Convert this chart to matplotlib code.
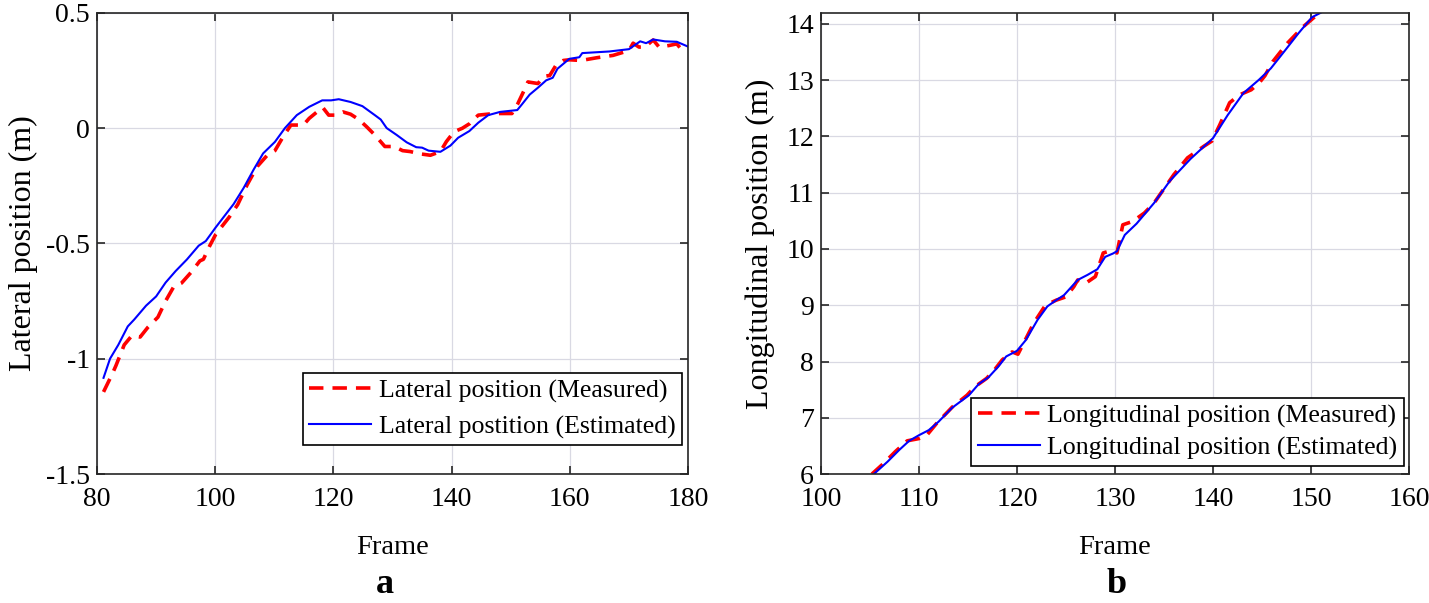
import matplotlib.pyplot as plt
import numpy as np

plt.rcParams["font.family"] = ["Liberation Serif", "DejaVu Serif"]

# Lateral position (panel a)
lat_meas_f = [81.1, 82.6, 83.2, 84.6, 85.9, 87.3, 88.6, 90.3, 91.6, 93.0, 94.3, 95.9, 97.4,
              98.0, 99.0, 100.1, 102.4, 103.8, 105.4, 107.1, 108.8, 110.1, 111.5, 112.8,
              114.9, 115.9, 117.6, 118.2, 119.2, 120.2, 121.6, 122.9, 124.3, 125.6, 127.0,
              128.7, 130.3, 131.7, 133.0, 134.7, 136.4, 138.1, 139.1, 140.4, 141.8, 143.1,
              144.5, 147.2, 150.2, 151.2, 152.2, 152.9, 154.6, 155.6, 156.6, 157.6, 158.9,
              159.9, 161.9, 164.6, 167.3, 170.0, 170.7, 171.7, 172.7, 174.1, 175.1, 176.8,
              178.1, 178.8, 179.8]
lat_meas = [-1.144, -1.065, -1.03, -0.94, -0.90, -0.906, -0.864, -0.82, -0.75, -0.687, -0.672,
            -0.626, -0.576, -0.569, -0.514, -0.46, -0.385, -0.332, -0.246, -0.167, -0.118,
            -0.098, -0.037, 0.013, 0.013, 0.042, 0.078, 0.089, 0.056, 0.056, 0.07, 0.06, 0.037,
            0.006, -0.03, -0.08, -0.08, -0.098, -0.102, -0.112, -0.118, -0.102, -0.059, -0.016,
            -0.001, 0.02, 0.056, 0.063, 0.063, 0.106, 0.16, 0.20, 0.193, 0.224, 0.228, 0.27,
            0.293, 0.296, 0.293, 0.305, 0.315, 0.336, 0.368, 0.351, 0.351, 0.382, 0.351, 0.358,
            0.365, 0.343, 0.353]
lat_est_f = [81.1, 82.2, 83.6, 85.2, 86.3, 88.3, 90.0, 91.6, 93.3, 95.2, 97.2, 98.4, 100.1,
             103.1, 104.8, 106.5, 108.1, 110.1, 111.8, 113.8, 115.9, 118.1, 119.6, 120.9,
             122.9, 124.9, 127.0, 128.0, 129.0, 130.7, 132.4, 134.0, 135.0, 136.1, 138.1,
             139.8, 141.1, 143.0, 144.5, 146.2, 148.2, 151.1, 151.9, 153.2, 154.6, 156.0,
             157.1, 157.9, 159.9, 161.6, 162.1, 166.7, 170.0, 171.9, 172.9, 174.1, 176.1,
             178.1, 180.0]
lat_est = [-1.083, -1.0, -0.94, -0.86, -0.83, -0.77, -0.73, -0.67, -0.62, -0.57, -0.51, -0.49,
           -0.43, -0.33, -0.26, -0.18, -0.11, -0.06, 0.0, 0.056, 0.092, 0.12, 0.12, 0.125,
           0.113, 0.095, 0.056, 0.037, 0.0, -0.03, -0.062, -0.083, -0.085, -0.098, -0.103,
           -0.076, -0.042, -0.013, 0.023, 0.056, 0.070, 0.078, 0.103, 0.145, 0.175, 0.207,
           0.218, 0.257, 0.30, 0.307, 0.325, 0.332, 0.342, 0.376, 0.368, 0.384, 0.376, 0.374,
           0.353]

# Longitudinal position (panel b)
lon_meas_f = [105.2, 106.4, 107.6, 108.8, 110.0, 110.8, 111.8, 113.4, 114.9, 115.7, 116.9,
              117.7, 118.5, 119.5, 120.1, 121.1, 121.7, 122.9, 124.0, 125.0, 125.8, 126.2,
              127.0, 128.0, 128.8, 129.4, 130.2, 130.8, 131.8, 133.0, 134.0, 134.8, 136.0,
              137.4, 139.1, 139.9, 140.7, 141.7, 142.7, 143.9, 144.7, 145.3, 146.1, 147.6,
              149.2, 150.8]
lon_meas = [6.0, 6.19, 6.40, 6.59, 6.63, 6.69, 6.90, 7.19, 7.40, 7.55, 7.70, 7.85, 8.03, 8.17,
            8.13, 8.47, 8.68, 9.0, 9.09, 9.15, 9.33, 9.45, 9.39, 9.51, 9.93, 9.96, 9.93, 10.43,
            10.49, 10.64, 10.82, 11.02, 11.32, 11.62, 11.83, 11.92, 12.21, 12.60, 12.74, 12.83,
            12.95, 13.08, 13.33, 13.66, 13.95, 14.19]
lon_est_f = [105.4, 106.8, 108.0, 109.0, 110.0, 111.0, 112.0, 113.4, 115.1, 116.1, 117.1,
             118.1, 118.9, 120.0, 120.9, 122.1, 123.1, 124.0, 124.8, 126.2, 127.2, 128.2,
             129.0, 129.8, 130.2, 131.0, 132.2, 134.0, 135.6, 137.7, 140.0, 141.5, 143.1,
             144.7, 145.9, 147.4, 148.7, 150.1, 151.0]
lon_est = [6.0, 6.22, 6.43, 6.59, 6.69, 6.78, 6.93, 7.18, 7.40, 7.60, 7.72, 7.91, 8.09, 8.19,
           8.38, 8.74, 8.98, 9.09, 9.18, 9.45, 9.54, 9.64, 9.86, 9.92, 9.96, 10.25, 10.45,
           10.82, 11.21, 11.60, 11.97, 12.38, 12.77, 13.01, 13.21, 13.54, 13.83, 14.12, 14.2]

TICK_FS = 20
XLAB_FS = 20.5
YLAB_FS = 23
LEG_FS = 18.6


def style_axes(ax):
    ax.grid(True, color="#d9d9e3", linewidth=0.9)
    ax.set_axisbelow(True)
    ax.tick_params(direction="in", top=True, right=True, length=6, width=1.2,
                   labelsize=TICK_FS, colors="#262626", labelcolor="black")
    ax.tick_params(axis="x", pad=9)
    ax.tick_params(axis="y", pad=5)
    for s in ax.spines.values():
        s.set_linewidth(1.2)
        s.set_color("#262626")


def add_legend(ax, anchor, spacing):
    leg = ax.legend(loc="lower right", bbox_to_anchor=anchor, fontsize=LEG_FS,
                    fancybox=False, framealpha=1, edgecolor="black", handlelength=2.4,
                    borderaxespad=0, borderpad=0.25, labelspacing=spacing,
                    handletextpad=0.3)
    leg.get_frame().set_linewidth(1.2)


def main():
    fig = plt.figure(figsize=(14.29, 6.03), dpi=100)
    ax1 = fig.add_axes([0.0679, 0.2139, 0.4136, 0.765])
    ax2 = fig.add_axes([0.5745, 0.2139, 0.4115, 0.765])

    # Panel a
    ax1.plot(lat_meas_f, lat_meas, color="red", linestyle=(0, (4, 2.5)), linewidth=2.6,
             label="Lateral position (Measured)")
    ax1.plot(lat_est_f, lat_est, color="#0000ff", linewidth=1.5,
             label="Lateral postition (Estimated)")
    ax1.set_xlim(80, 180)
    ax1.set_ylim(-1.5, 0.5)
    ax1.set_xticks(np.arange(80, 181, 20))
    ax1.set_yticks([-1.5, -1, -0.5, 0, 0.5])
    ax1.set_yticklabels(["-1.5", "-1", "-0.5", "0", "0.5"])
    ax1.set_xlabel("Frame", fontsize=XLAB_FS, labelpad=17)
    ax1.set_ylabel("Lateral position (m)", fontsize=YLAB_FS, labelpad=6)
    style_axes(ax1)
    add_legend(ax1, (1 - 6 / 591, 29 / 461), 0.48)

    # Panel b
    ax2.plot(lon_meas_f, lon_meas, color="red", linestyle=(0, (4, 2.5)), linewidth=2.6,
             label="Longitudinal position (Measured)")
    ax2.plot(lon_est_f, lon_est, color="#0000ff", linewidth=1.5,
             label="Longitudinal position (Estimated)")
    ax2.set_xlim(100, 160)
    ax2.set_ylim(6, 14.2)
    ax2.set_xticks(np.arange(100, 161, 10))
    ax2.set_yticks(np.arange(6, 15, 1))
    ax2.set_xlabel("Frame", fontsize=XLAB_FS, labelpad=17)
    ax2.set_ylabel("Longitudinal position (m)", fontsize=YLAB_FS, labelpad=8)
    style_axes(ax2)
    add_legend(ax2, (1 - 5 / 588, 8 / 461), 0.32)

    fig.text(0.2695, 0.016, "a", fontsize=26, fontweight="bold", ha="center", va="baseline")
    fig.text(0.7817, 0.016, "b", fontsize=26, fontweight="bold", ha="center", va="baseline")

    fig.savefig("out.png", dpi=100)


if __name__ == "__main__":
    main()
